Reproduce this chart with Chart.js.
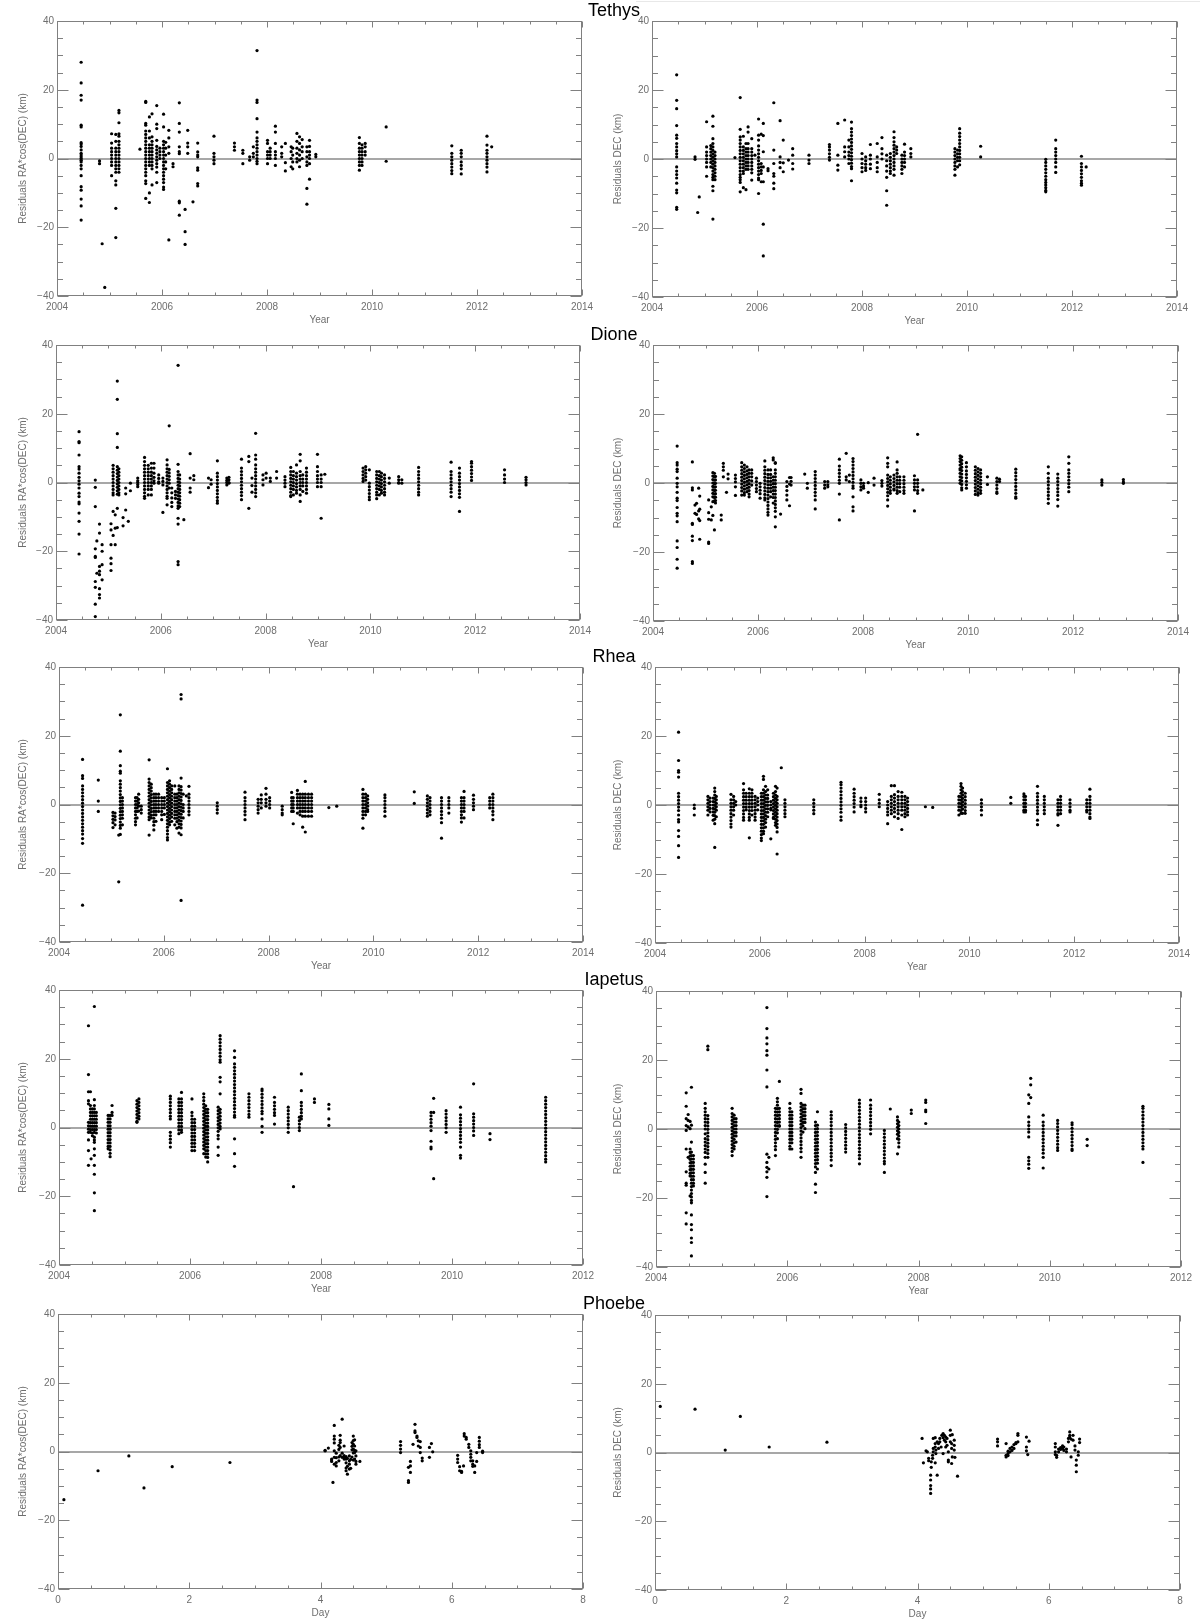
<!DOCTYPE html>
<html><head><meta charset="utf-8">
<script src="https://cdn.jsdelivr.net/npm/chart.js@4.4.1/dist/chart.umd.min.js"></script>
<style>
html,body{margin:0;padding:0;background:#fff;}
body{width:1200px;height:1624px;position:relative;overflow:hidden;font-family:"Liberation Sans",Arial,sans-serif;}
canvas{position:absolute;}
.title{position:absolute;font-size:18px;line-height:18px;color:#000;transform:translateX(-50%);white-space:nowrap;}
</style></head><body>
<div style="position:absolute;left:636px;top:1px;width:564px;height:1px;background:#e8e8e8"></div>
<script>
// ---------- DATA (each column: [x, y1, y2, ...]) ----------
const moonNames = ['Tethys','Dione','Rhea','Iapetus','Phoebe'];
const yTitleRA = 'Residuals RA*cos(DEC) (km)';
const yTitleDEC = 'Residuals DEC (km)';
const yTicks = [-40,-20,0,20,40];
const yearTicks = [2004,2006,2008,2010,2012,2014];
const yearTicksIap = [2004,2006,2008,2010,2012];
const dayTicks = [0,2,4,6,8];

const tethysRA = [
[2004.46,28,22,18.4,17,9.7,9.2,4.6,4.2,3.5,2.5,1.5,1,0.5,0,-0.5,-1,-2,-3,-5,-8.2,-9.2,-11.8,-13.8,-17.9],
[2004.81,-0.7,-1.5],[2004.86,-24.8],[2004.91,-37.5],
[2005.04,7.2,4.5,3,2,1,0,-1,-2,-5],
[2005.12,7,5,3,2,1,0,-1,-2,-3,-4,-6.5,-7.7,-14.5,-23],
[2005.18,14,13.3,10.4,7.2,6.5,5,4,3,2,1,0,-1,-2,-3,-4],
[2005.58,2.7],
[2005.69,16.6,16.3,10.2,9.7,8,7,6,5,4,3,2,1,0,-1,-2,-3,-4,-5,-6.5,-7.3,-11.6],
[2005.76,12.1,8,6,4,3,2,1,0,-1,-2,-10,-12.8],
[2005.81,13,6.3,5,4,3,2,1,0,-1,-2,-3,-7.7],
[2005.9,15.4,10,8.7,5.3,3.5,2.5,1.5,0.5,-0.5,-1.5,-2.5,-4,-7],
[2005.96,3,2,1,0],
[2006.03,12.9,9.2,5,4,3,2,1,0,-1,-2,-3,-4,-5,-6,-7,-8.3,-9],
[2006.07,4.7,3,1,-1,-3],
[2006.13,8.2,6,3.4,1.5,-23.7],
[2006.21,-1.5,-2.4],
[2006.33,16.2,10.2,7.7,3.4,2,1.4,-12.4,-12.9,-16.5],
[2006.44,-14.8,-21.3,-25],
[2006.49,8.2,4.5,3.4,1.5],
[2006.59,-12.6],
[2006.68,4.5,1.9,1,0.5,-2.7,-3.4,-7.3,-8],
[2006.99,6.5,1.5,0.5,-0.5,-1.5],
[2007.38,4.5,3.4,2.4],[2007.54,2.4,1.5,-1.5],[2007.67,0.5,-0.5],[2007.74,3.4,1.5,0.5],
[2007.81,31.4,17,16.3,11.6,7.7,6,5,4,3,2,1,0,-0.8,-1.5],
[2008.01,5.3,4.4,2,1,0,-1.5],[2008.06,3,2,1,0],
[2008.16,9.4,7.7,4.4,2,1,0,-2],
[2008.28,3.4,1.5,0.5],[2008.35,4.4,-1.2,-3.6],
[2008.46,3.4,2,0,-2.4],[2008.49,3,1,-1,-3],
[2008.57,7.3,5,3,1.5,0,-1],
[2008.62,6.3,4.4,2.5,1,-0.5,-2.4],
[2008.67,5.5,3.4,2,0],
[2008.76,3.4,2,0.5,-1,-2,-8.7,-13.3],
[2008.81,5.3,3.5,2,1,0,-1.5,-6],
[2008.93,1.2,0.5],
[2009.76,6.1,4.4,3,2,1,0,-1,-2,-3.4],
[2009.81,4,3,2,1,0,-1,-2],
[2009.87,4.4,3.4,2,1],
[2010.27,9.2,-0.8],
[2011.52,3.7,1.5,0.5,-0.5,-1.5,-2.5,-3.5,-4.4],
[2011.7,2.4,1.5,0.5,-1,-2,-3,-4.5],
[2012.19,6.5,3.9,2.4,1.5,0.5,-0.5,-1.5,-2.5,-3.9],
[2012.28,3.4]
];

const tethysDEC = [
[2004.47,24.4,17,14.6,9.7,6.9,6,4.5,3.5,2.4,1.5,0.6,-2.3,-3.5,-4.5,-5.5,-7,-9,-9.8,-14,-14.6],
[2004.82,0.6,-0.1],[2004.87,-15.5],[2004.9,-11],
[2005.04,10.8,3.5,2,1,0,-1,-2.3,-5],
[2005.12,3.9,3,2,1,0,-1,-2.3],
[2005.16,12.4,9.5,5.9,4.5,3.5,2.5,1.5,0.5,-0.5,-1.5,-2.5,-3.5,-4.5,-5.3,-6,-7.9,-9.2,-17.4],
[2005.2,2,1,0,-1,-2,-3,-4,-5,-6],
[2005.58,0.4],
[2005.68,17.8,8.6,6.4,5.5,4.5,3.5,2.5,1.5,0.5,-0.5,-1.5,-2.5,-3.5,-4.5,-5.3,-6,-6.8,-9.5],
[2005.74,6.6,3.5,2.5,1.5,0.5,-0.5,-1.5,-2.5,-3.5,-4.2,-8.3],
[2005.79,4.5,3,2,1,0,-1,-2,-3,-8.9],
[2005.83,9.3,7.8,4.5,3,2,1,0,-1,-2,-3],
[2005.9,5.9,3,2,1,0,-1,-2,-3,-4,-6.1],
[2005.96,1.1],
[2006.03,11.6,6.9,5.5,3.8,2.6,1.5,0.5,-0.5,-1.5,-2.5,-3.5,-4.5,-5.5,-6,-10],
[2006.08,7.2,-1.3,-2.3,-3.3,-4.2,-6.6],
[2006.12,10.3,6.8,2.1,-2.3,-6.6,-18.9,-28.1],
[2006.21,-2.8,-3.4],
[2006.32,16.3,2.6,-1.3,-4.2,-5,-7,-8.6],
[2006.44,11.1,0.6,-1,-2.5],
[2006.5,5.5,-1.1,-3.7],
[2006.6,-0.3],
[2006.68,3,1.1,-1.3,-2.9],
[2006.99,1.1,-0.3,-1.3],
[2007.38,4.2,3.5,2.6,1.5,0.5,-0.3],
[2007.54,10.3,1.1,-1.8,-3.2],
[2007.67,11.3,3.5,2.1,0.6],
[2007.75,5.5,3.5,2,1,0,-1.3],
[2007.8,10.7,8.8,7.8,6.8,5.8,4.8,3.8,2.8,1.8,0.8,-0.2,-1.2,-2.2,-2.8,-6.3],
[2008.0,1.6,0,-1.3,-2.5,-3.7],
[2008.07,0.6,-0.5,-1.5,-2.5,-3.3],
[2008.16,4.2,1.1,0,-1.5,-2.8],
[2008.29,4.5,0.6,-1,-2.5,-3.7],
[2008.38,6.2,3,1.5,0],
[2008.47,1.1,-0.5,-2,-3.5,-5.3,-9.2,-13.4],
[2008.54,1.6,0.5,-0.5,-1.5,-2.5,-3.5,-4.2],
[2008.61,7.9,6.2,5,4,3,2,1,0,-1,-2,-3,-4.7],
[2008.66,3.5,2.6,1.6],
[2008.76,1.1,0,-1,-2,-3,-4.2],
[2008.81,4.3,2,1,0,-1,-2.3],
[2008.93,3,1.6,0.6],
[2009.77,3,2,1,0,-1,-2,-3,-4.7],
[2009.82,2.6,1.5,0.5,-0.5,-2.3],
[2009.86,8.8,7.5,6.5,5.5,4.5,3.5,2.5,1.5,0.5,-0.5,-1.7],
[2010.26,3.7,0.6],
[2011.5,-0.1,-1,-2,-3,-4,-5,-6,-6.8,-7.5,-8.3,-9.1,-9.5],
[2011.69,5.5,3,2,1,0,-1,-2.3,-3.9],
[2012.18,0.8,-1.3,-2.3,-3.3,-4.3,-5.3,-6.3,-7,-7.6],
[2012.27,-2.3]
];

const dioneRA = [
[2004.44,14.8,11.9,11.6,8,4.6,3.9,2.7,1.5,0.5,-0.5,-1.6,-3.1,-4.1,-5.7,-6.2,-8.9,-11.3,-15,-20.8],
[2004.75,0.7,-1.4,-7,-19.3,-21.5,-21.8,-28.8,-30.5,-35.4,-39],
[2004.78,-17,-26.4],
[2004.83,-12.1,-14.7,-24.4,-25.8,-26.8,-30.9,-32.6,-33.6],
[2004.88,-18.1,-20,-23.9,-28.3],
[2005.05,-12,-13.8,-18.1,-22,-23.6,-25.6],
[2005.09,5,4,3,2,1,0,-1,-2,-3,-3.6,-8.4,-15.4],
[2005.13,-9.4,-13.3,-18.1],
[2005.17,29.5,24.2,14.2,10.2,4.6,3.6,2.6,1.6,0.6,-0.4,-1.4,-2.4,-3.4,-7.5,-13.1],
[2005.2,4,3,2,1,0,-1,-2,-3,-3.6],
[2005.28,-10.2,-12.6],[2005.33,-1.6,-3.3,-8],[2005.38,-11.3],[2005.42,-0.2,-2.4],
[2005.56,1.3,0.5,0,-0.6,-1.2],
[2005.69,7.3,6.1,5,4,3,2,1,0,-1,-2,-3,-4,-4.6],
[2005.76,5,4,3,2,1,0,-1,-2,-3.6],
[2005.82,5.6,4.2,3,2,1,0,-1,-2,-3.6],
[2005.87,5.6,4.2,2.7,1.5,0.5,-0.2],
[2005.96,2.2,1.2,0.2,-0.2],
[2006.04,1.3,0.3,-0.7,-8.7],
[2006.12,6.6,5.1,4,3,2,1,0,-1,-2,-3,-4,-4.6,-6.5],
[2006.16,16.5,3.8,2.8,1.8,0.8,-0.2,-1.6],
[2006.21,-1.6,-3,-4.5,-5.8,-7],
[2006.28,-2.6,-3.6,-4.6],
[2006.33,34.1,5.3,3.2,2.2,1.2,0.2,-0.8,-1.8,-2.8,-3.8,-4.8,-5.8,-6.8,-7.5,-10.4,-12.1,-23,-23.9],
[2006.36,2.2,1,0,-1,-2,-3,-4,-5,-6,-7],
[2006.44,-10.8],
[2006.56,8.4,1.3,-1.6,-2.8],
[2006.63,2,0.8],[2006.91,1.3,-1.5],[2006.96,0.8,-0.5],
[2007.08,6.3,2.7,1.7,0.7,-0.3,-1.3,-2.3,-3.3,-4.3,-5.3,-6],
[2007.26,1.3,0.6,0,-0.7],[2007.3,1.5,0.8,0,-0.2],
[2007.54,6.8,4.2,3.2,2.2,1.2,0.2,-0.8,-1.8,-2.8,-3.8,-5],
[2007.68,7.6,6.1,-7.5],
[2007.74,1.3,-0.9,-2.8],
[2007.81,14.3,8,6.8,5.1,4,3,2,1,0,-1,-2,-3,-4.1],
[2007.95,2.2,0.8,-0.7],[2008.01,2.7,1.3],[2008.09,1.3,0.3],[2008.21,3.2,1.3],
[2008.37,1.7,0.7,-0.2,-1.2],
[2008.48,4.4,3.2,2.2,1.2,0.2,-0.8,-1.8,-2.8,-3.8,-4.1],
[2008.53,3.2,2,1,0,-1,-2,-3.6],
[2008.59,5.1,2.7,1.7,0.7,-0.3,-1.3,-2.3,-3.1],
[2008.66,8.2,6.3,3.2,2,1,0,-1,-2,-3.6,-5.5],
[2008.71,2.2,1,0,-1,-2.6],
[2008.78,4.2,3,2,1,0,-1,-2,-3.1],
[2008.99,8.2,4.6,3.2,2,1,0,-1.2],
[2009.06,2.2,1,0,-1.2,-10.4],
[2009.13,2.4],
[2009.86,4.2,3.2,2.2,1.2,0.3],
[2009.91,4.6,3.7,2.7,1.7,0.7],
[2009.98,3.7,-0.2,-1.2,-2.2,-3.2,-4.2,-5],
[2010.12,3.2,2.2,1.2,0.2,-0.8,-1.8,-2.8,-3.6,-4.7],
[2010.17,3.2,2,1,0,-1,-2,-3.6],
[2010.21,2.7,1.7,0.7,-0.3,-1.3,-2.3,-3.1],
[2010.27,2.2,1.2,0.2,-0.8,-1.8,-2.8,-3.6],
[2010.36,1.3,-0.2],
[2010.54,1.7,0.8,0,-0.2],[2010.6,0.8,-0.2],
[2010.92,4.4,3.2,2.2,1.2,0.2,-0.8,-1.8,-2.8,-3.6],
[2011.54,5.9,3.2,2.2,1.2,0.2,-0.8,-1.8,-2.8,-4.1],
[2011.7,4.2,2.7,1.7,0.7,-0.3,-1.3,-2.3,-3.3,-4.3,-8.4],
[2011.93,6.1,5.6,4.6,3.6,2.6,1.6,0.6],
[2012.56,3.7,2.2,1,0],
[2012.97,1.5,0.8,0,-0.7]
];

const dioneDEC = [
[2004.46,10.7,5.9,5.2,4,3.3,1.4,-0.1,-1.1,-2.7,-4.4,-5.1,-7.1,-8.8,-9.5,-11.2,-16.8,-18.7,-22.1,-24.7],
[2004.75,6.1,-1.4,-2,-11.7,-12,-15.4,-16.7,-22.8,-23.3],
[2004.8,-6.4,-8.8],[2004.83,-5.9,-9.1],[2004.87,-1.5,-8.1,-10.4],
[2004.89,-3.8,-7.6,-10.9,-16.3],
[2005.06,-4.9,-8.6,-10.5,-17.1,-17.5],
[2005.11,-6.9,-10.7],
[2005.14,3,2,1,0,-1,-2,-3,-4,-5.4,-9.4],
[2005.17,2.8,1.8,0.8,-0.2,-1.2,-2.2,-3.2,-4.2,-5.2,-13.6],
[2005.19,1.9,0.9,-0.1,-1.1,-2.1,-3.1,-4.1,-5.1,-5.8],
[2005.3,-9.3,-10.7],
[2005.34,5.7,4.7,3.7,1.8],
[2005.4,-2.7],[2005.43,2.6,1.2],
[2005.57,2.3,1.3,0.3,-1.1,-3.6],
[2005.69,5.9,4.7,3.7,2.7,1.7,0.7,-0.3,-1.3,-2.3,-3.5],
[2005.74,5.2,4.2,3.2,2.2,1.2,0.2,-0.8,-1.8,-2.8,-3.5],
[2005.79,4.7,3.5,2.5,1.5,0.5,-0.5,-1.5,-2.5],
[2005.83,3.8,2.8,1.8,0.8,-0.2,-1.2,-2.2,-3.2,-4],
[2005.88,3.8,2.8,1.8,0.6,-0.6],
[2005.97,1.4,0.4,-0.6,-1.6,-2.5],
[2006.04,-0.1,-1.1,-2.1,-3.1,-4.4],
[2006.13,6.4,4.7,3.7,2.7,1.7,0.7,-0.3,-1.3,-2.3,-3.3,-4.3,-4.9],
[2006.19,3.8,2.5,1.5,0.5,-0.5,-1.5,-2.5,-3.5,-4.5,-5.5,-6.5,-7.5,-8.5,-9.3],
[2006.24,3.8,2.5,1.5,0.5,-0.5,-1.5,-2.5,-4],
[2006.29,7.3,6.7,1.8,0.8,-0.2,-1.2,-2.2,-3.2,-4.2,-5.8],
[2006.33,5.9,5.7,3.8,2.8,1.8,0.8,-0.2,-1.2,-2.2,-3.2,-4.2,-5.2,-6.2,-7.2,-8.2,-9.8,-12.7],
[2006.43,-9],
[2006.55,0.4,-1,-2.2,-3.5,-4.9],
[2006.6,1.6,-0.3,-6.6],
[2006.63,1.6,0.5,-0.6],
[2006.89,2.6],[2006.94,-0.1,-1.5],
[2007.09,3.3,2.3,1.3,0.3,-0.7,-1.7,-2.7,-3.7,-4.9,-7.5],
[2007.27,0.4,-0.6,-1.5],[2007.33,0.4,-0.5,-1.1],
[2007.55,6.9,4.9,3.8,2.8,1.8,0.8,-0.1,-3.2,-10.7],
[2007.68,8.6,1.8,0.9],[2007.74,2.3,0.4],
[2007.81,7.1,6.2,5.2,4.2,3.2,2.2,1.2,0.2,-0.8,-1.5,-4,-6.9,-8.1],
[2007.96,0.9,-0.1,-1.1,-2],[2008.01,-0.1,-0.9,-1.5],[2008.1,0.1,-2.7],[2008.21,1.4,-0.6],
[2008.36,0.7,-0.1,-0.9],
[2008.47,7.3,5.7,4.7,2.3,1.3,0.3,-0.7,-1.7,-2.7,-3.7,-4.9,-6.7],
[2008.52,1.8,0.8,-0.2,-1.2,-2.2,-3],
[2008.59,2.3,1.3,0.3,-0.7,-1.7,-2],
[2008.65,6.1,3.8,2.8,1.8,0.8,-0.2,-1.2,-2.2,-3],
[2008.7,1.8,0.8,-0.2,-1.2,-2.5],
[2008.78,1.8,0.8,-0.2,-1.2,-2.2,-3],
[2008.98,2.1,0.9,-0.1,-1.1,-2,-8.1],
[2009.04,14.1,0.9,-0.1,-1.1,-2.2,-3],
[2009.14,-2],
[2009.85,7.9,7.1,6.2,5.2,4.2,3.8,2.8,1.8,0.8,-0.1],
[2009.88,7.6,6.6,5.6,4.6,3.6,2.6,1.6,0.6,-0.4,-1.4,-2],
[2009.97,5.9,4.7,3.5,2.5,1.5,0.5,-0.5,-1.5],
[2010.14,4.7,3.7,2.7,1.7,0.7,-0.3,-1.3,-2.3,-3.3],
[2010.19,4.2,3.2,2.2,1.2,0.2,-0.8,-1.8,-2.8,-3.5],
[2010.24,3.8,2.8,1.8,0.8,-0.2,-1.2,-2.2,-3],
[2010.37,1.8,-0.4],
[2010.55,1.4,0.4,-0.6,-1.6,-2.6,-3],
[2010.6,1.1,0.4],
[2010.91,4,3,2,1,0,-1,-2,-3,-4,-4.4],
[2011.53,4.7,2.8,1.4,0.4,-0.6,-1.6,-2.6,-3.6,-4.6,-5.9],
[2011.71,2.6,1.4,0.4,-0.6,-1.6,-2.6,-3.6,-4.8,-6.7],
[2011.92,7.6,5.7,3.8,2.8,1.8,0.8,-0.2,-1.2,-2.5],
[2012.55,0.9,0.2,-0.6],
[2012.96,1,0.3,-0.1]
];

const rheaRA = [
[2004.45,13.1,8.4,7.6,5.4,4.4,3.4,2.4,1.4,0.4,-0.6,-1.6,-2.6,-3.6,-4.6,-5.6,-6.6,-7.6,-8.6,-9.9,-11.3,-29.3],
[2004.75,7.1,1,-2],
[2005.03,-2.3,-3.3,-4.3,-5.3,-6.7],
[2005.07,-2.5,-3.5,-4.5,-5.9],
[2005.14,-8.9,-22.5],
[2005.17,26.1,15.5,11.3,9.7,9.1,6.9,5.9,4.9,3.9,2.9,1.9,0.9,-0.1,-1.1,-2.1,-3.1,-4.1,-5.1,-6.1,-6.9,-8.7],
[2005.21,2,1,0,-1,-2,-3,-4,-5.9],
[2005.46,2,1,0,-1,-2,-3,-4,-5,-5.9],
[2005.49,2,1,0,-1,-2,-3.9],
[2005.52,3,1.5,0.5,-0.5,-1.9],
[2005.57,-0.5,-1.5,-2.5],
[2005.72,13,7.4,6.4,5.4,4.4,3.4,2.4,1.4,0.4,-0.6,-1.6,-2.6,-3.6,-4.4,-8.9],
[2005.76,5.9,4.9,3.9,2.9,1.9,0.9,-0.1,-1.1,-2.1,-3.1,-3.9],
[2005.81,3,2,1,0,-1,-2,-3,-4,-5,-6,-7.4],
[2005.85,3,2,1,0,-1,-2,-3,-4.9],
[2005.9,3,2,1,0,-1,-2],
[2005.96,2,1,0,-1,-2,-3,-4.4],
[2006.01,2,1,0,-1,-2.9],
[2006.07,10.4,6.4,5.4,4.4,3.4,2.4,1.4,0.4,-0.6,-1.6,-2.6,-3.6,-4.6,-5.6,-6.6,-7.6,-8.6,-9.6,-10.3],
[2006.11,6.9,5.9,4.9,3.9,2.9,1.9,0.9,-0.1,-1.1,-2.1,-3.1,-4.1,-5.1,-5.9],
[2006.15,5.4,4.4,3.4,2.4,1.4,0.4,-0.6,-1.6,-2.6,-3.6,-4.9],
[2006.21,5.4,3,2,1,0,-1,-2,-3,-4,-5.9],
[2006.25,3,2,1,0,-1,-2,-3,-4,-5,-6.9],
[2006.29,5.4,4.4,3.4,2.4,1.4,0.4,-0.6,-1.6,-2.6,-3.6,-4.6,-5.6,-6.6,-8.3],
[2006.33,32,30.7,7.7,5.2,4.2,3.2,2.2,1.2,0.2,-0.8,-1.8,-2.8,-3.8,-4.8,-5.8,-6.8,-8.8,-27.9],
[2006.37,3,0,-1,-2,-3.9],
[2006.43,2.5],
[2006.48,5.3,3,2,1,0,-1,-2,-3],
[2007.02,0.5,-0.5,-1.5,-2.5],
[2007.55,3.6,2,1,0,-1,-2,-3,-4.4],
[2007.8,1.5,0.5,-0.5,-1.5,-2.5],
[2007.86,2.8,1.5,0.5,-1],
[2007.95,4.7,3,1.5,0.5,-0.5],
[2008.02,2,1,0,-1],
[2008.26,-0.5,-1.5,-2.5,-3],
[2008.44,3.5,2,1,0,-1,-2],
[2008.47,2,1,0,-1,-2,-5.6],
[2008.55,4.1,3,2,1,0,-1,-2.5],
[2008.6,3,2,1,0,-1,-2,-3],
[2008.65,3,2,1,0,-1,-2,-3.4,-6.6],
[2008.7,6.7,3,2,1,0,-1,-2,-3.4,-8],
[2008.76,3,2,1,0,-1,-2,-3.4],
[2008.82,3,2,1,0,-1,-2,-3.4],
[2009.15,-0.9],[2009.3,-0.5],
[2009.8,4.4,3,2,1,0,-1,-2,-3,-4,-6.9],
[2009.85,3,2,1,0,-1,-2,-3],
[2009.89,2.5,1.5,0.5,-0.5,-1.5,-2],
[2010.22,2.8,2,1,0,-1,-2,-3.4],
[2010.78,3.7,0.3],
[2011.03,2.5,1.5,0.5,-0.5,-1.5,-2.5,-3.4],
[2011.08,2,1,0,-1,-2,-3],
[2011.3,2,1,0,-1,-2,-3,-4,-5.3,-9.8],
[2011.44,2,1,0,-1,-2.5],
[2011.68,2,1,0,-1,-2,-3,-3.9,-5.1],
[2011.73,3.8,2,1,0,-1,-2,-3.9],
[2011.91,2.7,1.5,0.5,-0.5,-1.5],
[2012.22,2,1,0,-1],
[2012.28,3,2,1,0,-1,-2,-3,-4.4]
];

const rheaDEC = [
[2004.45,21.1,12.9,10,9.5,8.1,3.4,2.4,1.4,0.4,-0.6,-1.6,-2.9,-4.2,-4.9,-7.4,-9.1,-11.8,-15.2],
[2004.75,0,-1,-2.9],
[2005.01,2.5,1.5,0.5,-0.5,-1.5,-2.9],
[2005.05,2,1,0,-1,-2],
[2005.11,2,1,0,-1,-2,-3,-4.4],
[2005.14,4.9,3.9,2.9,1.9,0.9,-0.1,-1.1,-2.1,-3.1,-4.1,-5.4,-12.3],
[2005.17,2.5,1.5,0.5,-0.5,-1.5,-3.4],
[2005.45,3.1,1.5,0.5,-0.5,-1.5,-2.5,-3.5,-4.5,-5.5,-6.4],
[2005.5,2.5,1.5,0.5,-0.5,-1.5,-2.9],
[2005.54,1,0],
[2005.69,6.2,4.4,3.4,2.4,1.4,0.4,-0.6,-1.6,-2.6,-3.6,-4.4],
[2005.74,3.4,2.4,1.4,0.4,-0.6,-1.4],
[2005.8,4.7,3.4,2.4,1.4,0.4,-0.6,-1.6,-2.6,-3.6,-4.4,-9.5],
[2005.85,4.4,3.4,2.4,1.4,0.4,-0.6,-1.6,-2.9],
[2005.91,2.5,1.5,0.5,-0.5,-1.5,-2.5,-3.5,-4.4],
[2005.96,2,1,0,-1.4],
[2006.03,3.4,2.4,1.4,0.4,-0.6,-1.6,-2.6,-3.6,-4.6,-5.6,-6.6,-7.6,-8.6,-9.6,-10.3],
[2006.07,8.3,7.4,4.4,3.4,2.4,1.4,0.4,-0.6,-1.6,-2.6,-3.6,-4.6,-5.6,-6.6,-7.6,-8.3],
[2006.11,5.4,3.9,2.9,1.9,0.9,-0.1,-1.1,-2.1,-3.1,-4.1,-5.1,-6.4],
[2006.15,4.4,2.9,1.9,0.9,-0.1,-1.1,-2.1,-3.4],
[2006.21,1,0,-1,-1.4,-9.8],
[2006.26,3.4,2.4,1.4,0.4,-0.6,-1.6,-2.6,-3.6,-3.9],
[2006.3,5.4,3.9,2.9,1.9,0.9,-0.1,-1.1,-2.1,-3.1,-4.1,-5.1,-5.9],
[2006.33,4.9,2.5,1.5,0.5,-0.5,-1.5,-2.5,-3.5,-4.5,-5.5,-6.5,-7.8,-14.2],
[2006.41,10.8],
[2006.48,1.5,0.5,-0.5,-1.5,-2.5,-3.4],
[2007.03,1.5,0.5,-0.5,-1.5,-2.5],
[2007.55,6.6,5.9,4.9,3.9,2.9,1.9,0.9,-0.1,-1.1,-2.1,-3.4,-4.4],
[2007.8,4.6,3.4,2.4,1.4,0.4,-0.6,-2],
[2007.93,2,1,0,-0.5],
[2008.02,2,1,0,-1,-2],
[2008.28,3.1,1.5,0.5,-0.5],
[2008.44,1,0,-1,-2,-2.9,-5.4],
[2008.51,5.6,2.5,1.5,0.5,-0.5,-1.5,-2.5],
[2008.57,5.6,3,2,1,0,-1,-2,-3.4],
[2008.64,3.9,2.5,1.5,0.5,-0.5,-1.5,-2.5,-3.9],
[2008.71,3.7,2.5,1.5,0.5,-0.5,-1.5,-2.9,-7.1],
[2008.77,2.5,1.5,0.5,-0.5,-1.5,-2.5,-3.4],
[2008.82,2,1,0,-1,-2,-2.9],
[2009.16,-0.5],[2009.3,-0.7],
[2009.8,2.5,1.5,0.5,-0.5,-1.5,-2.9],
[2009.84,6.2,5.4,4.4,3.4,2.4,1.4,0.4,-0.6,-1.6,-2.4],
[2009.87,4.9,3.9,2.9,1.9,0.9,-0.1,-1.1,-2.4],
[2009.92,3.4,2.4,1.4,0.4,-0.6,-1.6,-2.4],
[2010.23,1.5,0.5,-0.5,-1.5,-2.9],
[2010.79,2.2,0.5],
[2011.04,3.2,2.5,1.5,0.5,-0.5,-1.5,-2],
[2011.07,2.5,1.5,0.5,-0.5,-1.5,-2],
[2011.3,5.4,3.4,2.4,1.4,0.4,-0.6,-1.6,-2.5,-4.4,-5.7],
[2011.43,2.5,1.5,0.5,-0.5,-1.5,-2.5],
[2011.69,1.5,0.5,-0.5,-1.5,-2.5,-2.9,-5.9],
[2011.74,2.5,1.5,0.5,-0.5,-1.5,-2.5],
[2011.92,1.5,0.5,-0.5,-1.5,-2],
[2012.24,1.5,0.5,-0.5,-1.5,-2],
[2012.3,4.6,2.5,1.5,0.5,-0.5,-1.5,-2.5,-3.5,-3.9]
];

const iapetusRA = [
[2004.45,29.6,15.4,10.4,7.8,6.9,1.5,0.5,-0.5,-1.4,-3.6,-6.7,-11],
[2004.48,10.4,6.4,5.4,4.4,3.4,2.4,1.4,0.4,-0.6,-1.4],
[2004.49,-9.1],
[2004.51,5.4,4.4,3.4,2.4,1.4,0.4,-0.6,-1.6,-2.4],
[2004.54,35.2,8.1,6.4,5.4,4.4,3.4,2.4,1.4,0.4,-0.6,-1.4,-2.8,-3.6,-4.3,-6.2,-8.1,-11,-13.6,-19,-24.2],
[2004.57,4.4,3.4,2.4,1.4,0.4,-0.6,-1.6],
[2004.75,3.5,2.5,1.5,0.5,-0.5,-1.5,-2.5,-3.5,-4.5,-5.5,-6.2],
[2004.78,3.5,2.5,1.5,0.5,-0.5,-1.5,-2.5,-3.5,-4.5,-5.5,-6.5,-7.5,-8.5],
[2004.81,6.4,4.4,3.5],
[2005.19,7.8,6.8,5.8,4.8,3.8,2.8,1.8,1.5],
[2005.22,8.3,7.3,6.3,5.3,4.3,3.3,2.5],
[2005.7,9.1,8.3,7.3,6.3,5.3,4.3,3.3,2.5,-1.4,-2.4,-3.4,-4.4,-5.7],
[2005.83,8.3,7.3,6.3,5.3,4.3,3.3,2.3,1.3,0.3,-0.7,-1.8],
[2005.87,10.2,8.3,7.3,6.3,5.3,4.3,3.3,2.3,1.3,0.3,-0.7,-1.4],
[2006.03,8.3,4.4,3.4,2.4,1.4,0.4,-0.6,-1.6,-2.6,-3.6,-4.6,-5.6,-6.7],
[2006.07,2.4,1.4,0.4,-0.6,-1.6,-2.6,-3.6,-4.6,-5.6,-6.7],
[2006.21,9.8,8.8,7.8,6.8,5.8,4.8,3.8,2.8,1.8,0.8,-0.2,-1.2,-2.2,-3.2,-4.2,-5.2,-6.2,-7.6],
[2006.24,6.3,5.3,4.3,3.3,2.3,1.3,0.3,-0.7,-1.7,-2.7,-3.7,-4.7,-5.7,-6.7,-7.7,-8.6],
[2006.27,5.3,4.3,3.3,2.3,1.3,0.3,-0.7,-1.7,-2.7,-3.7,-4.7,-5.7,-6.7,-7.7,-8.7,-10],
[2006.43,5.9,4.9,3.9,2.9,1.9,0.9,-0.1,-1.1,-2.3,-3.3,-5.7,-8.1],
[2006.46,26.7,25.7,24.7,23.7,22.7,21.7,20.7,19.7,19,14.6,13.3,9.8,5.3,4.3,3.3,2.3,1.3,0.3,-0.4],
[2006.68,22.3,20.4,18.5,17.5,16.5,15.5,14.5,13.5,12.5,11.5,10.5,9.5,8.5,7.5,6.5,5.5,4.5,3.5,3,-3.3,-7.6,-11.3],
[2006.9,9.8,8.8,7.8,6.8,5.8,4.8,3.8,3],
[2007.1,11.2,10.7,9.7,8.7,7.7,6.7,5.7,4.7,4,2.5,0.3,-1.4],
[2007.29,8.8,7.3,6.3,5.3,4.3,3.5,1],
[2007.5,5.9,4.9,3.9,2.9,1.9,0.9,-0.1,-1.4],
[2007.58,-17.2],
[2007.67,3,2,1,0,-0.9],
[2007.7,15.6,10.7,7.3,6.3,5.3,4.3,3.3,2.5],
[2007.9,8.3,7.3],
[2008.12,6.7,5.4,2.5,0.6],
[2009.68,4.4,3.4,2.4,1.4,0.4,-0.9,-4,-5.7,-6.2],
[2009.72,8.5,4.4,-14.9],
[2009.91,4.9,3.9,2.9,1.9,0.9,-0.1,-1.4],
[2010.13,5.9,3.7,2.7,1.7,0.7,-0.3,-1.3,-2.3,-3.3,-4.3,-5.7,-8.1,-8.9],
[2010.33,12.7,4,3,2,1,0,-1,-2.3],
[2010.58,-1.8,-3.5],
[2011.43,8.8,7.8,6.8,5.8,4.8,3.8,2.8,1.8,0.8,-0.2,-1.2,-2.2,-3.2,-4.2,-5.2,-6.2,-7.2,-8.2,-9.2,-10]
];

const iapetusDEC = [
[2004.46,10.5,6.6,3,1,-0.4,-5.8,-12.4,-15.7,-16.3,-24.3,-27.5],
[2004.49,4.2,2.5,0.6,-8.2],
[2004.52,2.2,0.1,-5.8,-6.8,-7.8,-8.8,-9.8,-10.8,-11.8,-12.8,-13.6,-19.4],
[2004.54,12.1,1.1,-3.8,-6.7,-7.7,-8.7,-9.7,-10.7,-11.7,-12.7,-13.7,-14.7,-15.7,-16.7,-17.7,-18.7,-19.7,-20.7,-21.4,-24.9,-27.7,-29.2,-31.6,-32.9,-36.8],
[2004.57,-7.7,-8.7,-9.7,-10.7,-11.7,-12.7,-13.7,-14.7,-15.7,-16.5],
[2004.75,7.4,6,5,4,3,2,1,0,-1.4,-2.8,-3.8,-4.8,-5.8,-6.8,-8.2,-10.2,-12.6,-15.7],
[2004.79,24,23,3.9,2.9,1.9,0.9,-0.1,-1.1,-2.1,-3.1,-4.1,-5.1,-6.1,-7.1,-8.2],
[2005.16,6,4.5,3.5,2.5,1.5,0.5,-0.5,-1.5,-2.5,-3.5,-4.5,-5.5,-6.5,-7.7],
[2005.19,4,3,2,1,0,-1,-2,-3,-4,-5,-5.8],
[2005.22,3,2,1,0,-1,-2,-3.8],
[2005.69,35.2,29.1,26.4,24.7,22.7,21.4,17.1,12.2,-7.3,-9.7,-11.1,-12.4,-14,-19.6],
[2005.72,-8.2,-11.6],
[2005.82,6,5,4,3,2,1,0,-1,-2,-3,-4,-5,-6,-7.7],
[2005.85,8.9,7.9,6.9,5.9,4.9,3.9,2.9,1.9,0.9,-0.1,-1.1,-2.8],
[2005.88,13.8,6,5,4,3,2,1,0.8],
[2006.04,7.4,6,5,4,3,2,1,0,-1,-2,-3,-4,-5,-5.8],
[2006.07,5,4,3,2,1,0,-1,-2,-3,-4,-5.8],
[2006.21,11.5,10.3,7.4,6.4,5.4,4.4,3.4,2.4,1.4,0.4,-0.6,-1.6,-2.6,-3.6,-4.6,-5.6,-6.6,-8.2],
[2006.24,6.9,5.9,4.9,3.9,2.9,1.9,0.9,-0.9],
[2006.27,6.9,5.9,4.9,3.9,2.9,1.9,0.1],
[2006.43,2,1,0,-1,-2,-3,-4,-5,-6,-7,-8,-9,-10,-11,-12.6,-16,-18.4],
[2006.46,5,1.1,0.1,-0.9,-1.9,-2.9,-3.9,-4.9,-5.9,-6.9,-7.9,-8.9,-9.9,-11.6],
[2006.67,5,4,3,2,1,0,-1,-2,-3,-4,-5,-6,-7,-8,-9,-10.6],
[2006.89,1.3,0.3,-0.7,-1.7,-2.7,-3.7,-4.7,-5.7,-6.7],
[2007.1,8.4,7.4,6.4,5.4,4.4,3.4,2.4,1.4,0.4,-0.6,-1.6,-2.6,-3.6,-4.6,-5.6,-6.6,-7.6,-8.6,-10.1],
[2007.27,8.4,6.9,5.9,4.9,3.9,2.9,1.9,0.9,-0.1,-1.4],
[2007.48,-0.4,-1.4,-2.4,-3.4,-4.4,-5.4,-6.4,-7.4,-8.4,-9.4,-10.1,-12.6],
[2007.57,5.8],
[2007.68,3.5,2.5,1.5,0.5,-0.5,-1.5,-2.8,-7.2],
[2007.7,2,1,0,-1,-2,-3,-4,-5.2],
[2007.89,5.5,4.5],
[2008.11,8.4,7.7,5.5,5,1.6],
[2009.68,9.9,7.4,3.5,2,1,0,-0.9,-2.3,-8.2,-9.2,-10.2,-11.4],
[2009.71,14.7,12.8,9.1],
[2009.9,4,2,1,0,-1,-2,-3,-4,-5,-6,-7,-8.2,-11.3],
[2010.12,2.5,1.6,0.6,-0.4,-1.4,-2.4,-3.4,-4.4,-5.4,-6.2],
[2010.34,1.8,1.2,0.2,-0.8,-1.8,-2.8,-3.8,-4.8,-5.8,-6.2],
[2010.57,-3,-4.8],
[2011.42,6.6,6,5,4,3,2,1,0,-1,-2,-3,-4,-5,-5.8,-9.7]
];

const phoebeRA = [
[0.09,-14],[0.61,-5.6],[1.08,-1.3],[1.31,-10.6],[1.74,-4.4],[2.62,-3.2],
[4.07,0.3,0.2],[4.12,1.0],[4.17,-2.2,-2.9,-2.5],[4.19,-9],
[4.21,7.6,4.5,3.6,2.5,0.2,-1.7,-3.7],
[4.24,-4.2,-3.2,-1.8,-0.5],
[4.28,-2.7,-1.6,0.6,1.8],
[4.3,4.7,3.3,2.6,1.2,-1.2],
[4.33,9.4,-0.5,-1.7],
[4.36,-1.7,-2.2,-1.2,1.6],
[4.39,-5.6,-4.8,-3.3,-2.2,-1.5],
[4.41,-6.6,-4.3,-2.0],
[4.44,-2.7,-3.7,-1.3,-5.1],
[4.46,-4.9,-2.3],
[4.48,2.6,1.5,0.5,-1.6],
[4.5,4.5,3.2,2.1,0.7,-0.4,-2.5],
[4.52,3.4,1.6,0.3,-0.3,-2.2],
[4.54,-3.7,-2.9,-1.3,0.2],
[4.6,-2.9],
[5.22,2.9,1.8,0.7,-0.3],
[5.34,-4.6,-8.5,-9],
[5.37,-2.9,-4.2,-6.1],
[5.41,2.1],
[5.44,7.9,6,5.5],
[5.47,4.5,4.1],
[5.49,3.1,1.6],
[5.52,2.9,1.2,-0.3],
[5.55,-1.9,-2.7],
[5.66,1.2,-1.7],[5.69,2.3],[5.71,-0.1],
[6.09,-1.1,-2.2,-3.2],
[6.12,-4.4,-5.6],
[6.15,-5.8,-6.1],
[6.18,-4.2],
[6.19,5.2,4.5],
[6.22,4.1,3.6],
[6.26,2.1,1.2],
[6.29,0.2,-0.8,-1.7,-2.7],
[6.32,-2.7,-3.7,-4.3],
[6.35,-4.2,-6.1],
[6.38,-2.9,-0.3],
[6.42,4.1,3,2,1.2],
[6.47,-0.3,0.1]
];

const phoebeDEC = [
[0.08,13.4],[0.61,12.6],[1.07,0.7],[1.3,10.5],[1.74,1.6],[2.62,3],
[4.07,4.1],[4.09,-3],[4.13,0.5],[4.15,0.2],[4.17,-1.7,-2.4],
[4.2,-6.6,-8,-9.6,-10.6,-11.9],
[4.21,-4.3,-2.7],[4.23,-0.8,-1.7],
[4.24,4.1,1.2,0.2],
[4.27,4.3,2.6,1.6,-3],
[4.28,0.7,-0.3],
[4.3,-6.6,3.1],
[4.32,2.6,1.2],
[4.34,4.1,3.1],
[4.36,1.6],
[4.37,5],
[4.39,5.5,4.3,-0.3],
[4.41,5,3.6],
[4.43,4.5,3.1,1.6],
[4.45,4.1,2.1],
[4.47,-2.2,-2.7,0.2],
[4.5,6.5,5,3.1],
[4.52,2.6,1.2,-3.2],
[4.53,5.2,-1.3],
[4.56,3.6,2.1,0.7],
[4.57,-1.4],
[4.61,-6.9],
[5.22,3.9,3.1,1.9],
[5.35,2.6,-0.8,-1.3],
[5.38,0.4,-0.3,-0.9],
[5.41,1.2,0.2],
[5.44,1.6,0.6],
[5.47,2.3,1.2],
[5.5,2.9,2.6],
[5.53,5,5.5,3.1],
[5.66,4.5,1.6,0.5],
[5.68,-0.6],
[5.7,3.3],
[6.1,2.6,1.6,0.2,-0.6],
[6.12,-0.8,-1.4],
[6.15,0.2,1],
[6.18,0.9,1.4],
[6.21,1.9,1.2],
[6.23,1.6,0.6],
[6.27,1,0.2],
[6.3,4.1,3.1],
[6.32,6,5,4.5],
[6.34,3.9,-1.3],
[6.37,5,3.6],
[6.4,1.9,0.7],
[6.42,-2.2,-3.7,-5.6],
[6.45,0.2,-0.8],
[6.47,3.9,2.9]
];

// ---------- LAYOUT ----------
const FONT = '"Liberation Sans", Arial, Helvetica, sans-serif';
const LABEL = '#6e6e6e';
const AXIS = '#808080';

const panels = [
  {data: tethysRA,  yt: yTitleRA,  xt:'Year', xmin:2004, xmax:2014, xticks:yearTicks, side:0, rect:[57,21,582,296]},
  {data: tethysDEC, yt: yTitleDEC, xt:'Year', xmin:2004, xmax:2014, xticks:yearTicks, side:1, rect:[652,21,1177,297]},
  {data: dioneRA,   yt: yTitleRA,  xt:'Year', xmin:2004, xmax:2014, xticks:yearTicks, side:0, rect:[56,345,580,620]},
  {data: dioneDEC,  yt: yTitleDEC, xt:'Year', xmin:2004, xmax:2014, xticks:yearTicks, side:1, rect:[653,345,1178,621]},
  {data: rheaRA,    yt: yTitleRA,  xt:'Year', xmin:2004, xmax:2014, xticks:yearTicks, side:0, rect:[59,667,583,942]},
  {data: rheaDEC,   yt: yTitleDEC, xt:'Year', xmin:2004, xmax:2014, xticks:yearTicks, side:1, rect:[655,667,1179,943]},
  {data: iapetusRA, yt: yTitleRA,  xt:'Year', xmin:2004, xmax:2012, xticks:yearTicksIap, side:0, rect:[59,990,583,1265]},
  {data: iapetusDEC,yt: yTitleDEC, xt:'Year', xmin:2004, xmax:2012, xticks:yearTicksIap, side:1, rect:[656,991,1181,1267]},
  {data: phoebeRA,  yt: yTitleRA,  xt:'Day',  xmin:0, xmax:8, xticks:dayTicks, side:0, rect:[58,1314,583,1589]},
  {data: phoebeDEC, yt: yTitleDEC, xt:'Day',  xmin:0, xmax:8, xticks:dayTicks, side:1, rect:[655,1315,1180,1590]}
];
const titleTops = [21,345,667,990,1314];

function toPoints(cols){
  const out=[];
  cols.forEach(c=>{ for(let i=1;i<c.length;i++) out.push({x:c[0], y:c[i]}); });
  return out;
}

const framePlugin = {
  id:'idlFrame',
  beforeDatasetsDraw(chart){
    const {ctx, chartArea:a, scales:{y}} = chart;
    const y0 = Math.round(y.getPixelForValue(0));
    ctx.save();
    ctx.strokeStyle = '#8a8a8a'; ctx.lineWidth = 1.6;
    ctx.beginPath(); ctx.moveTo(a.left, y0); ctx.lineTo(a.right, y0); ctx.stroke();
    ctx.restore();
  },
  afterDraw(chart){
    const {ctx, chartArea:a, scales:{x,y}} = chart;
    const L = Math.round(a.left)+0.5, R = Math.round(a.right)-0.5;
    const T = Math.round(a.top)+0.5, B = Math.round(a.bottom)-0.5;
    ctx.save();
    ctx.strokeStyle = AXIS; ctx.lineWidth = 1;
    ctx.strokeRect(L, T, R-L, B-T);
    ctx.beginPath();
    const xmin = x.min, xmax = x.max;
    const nx = Math.round((xmax-xmin)/0.5);
    for(let i=0;i<=nx;i++){
      const v = xmin + i*0.5;
      const px = Math.round(x.getPixelForValue(v))+0.5;
      const len = (i%4===0) ? 6 : 3;
      ctx.moveTo(px, B); ctx.lineTo(px, B-len);
      ctx.moveTo(px, T); ctx.lineTo(px, T+len);
    }
    for(let v=-40; v<=40; v+=5){
      const py = Math.round(y.getPixelForValue(v))+0.5;
      const len = (v%20===0) ? 11 : 5.5;
      ctx.moveTo(L, py); ctx.lineTo(L+len, py);
      ctx.moveTo(R, py); ctx.lineTo(R-len, py);
    }
    ctx.stroke();
    ctx.restore();
  }
};

panels.forEach(p=>{
  const [l,t,r,b] = p.rect;
  const cLeft = p.side ? 600 : 0;
  const cTop = t - 10;
  const W = 600, H = (b - t) + 10 + 32;
  const cv = document.createElement('canvas');
  cv.width = W; cv.height = H;
  cv.style.left = cLeft+'px'; cv.style.top = cTop+'px';
  cv.style.width = W+'px'; cv.style.height = H+'px';
  document.body.appendChild(cv);
  const yAxisW = l - cLeft;
  new Chart(cv.getContext('2d'), {
    type:'scatter',
    data:{ datasets:[{ data: toPoints(p.data), pointRadius:1.6, pointHoverRadius:1.6,
      pointBackgroundColor:'#000', pointBorderWidth:0, borderColor:'#000' }] },
    options:{
      responsive:false, animation:false, devicePixelRatio:1,
      layout:{ padding:{ top:10, left:0, right:(cLeft+W) - r, bottom:0 } },
      plugins:{ legend:{display:false}, tooltip:{enabled:false} },
      scales:{
        x:{ type:'linear', min:p.xmin, max:p.xmax,
            afterFit:(s)=>{ s.height = 32; },
            afterBuildTicks:(s)=>{ s.ticks = p.xticks.map(v=>({value:v})); },
            grid:{display:false, drawTicks:false}, border:{display:false},
            ticks:{ autoSkip:false, maxRotation:0, minRotation:0, padding:5, color:LABEL,
                    font:{family:FONT, size:10}, callback:(v)=>String(v) },
            title:{ display:true, text:p.xt, color:LABEL, font:{family:FONT, size:10}, padding:{top:0,bottom:2} } },
        y:{ type:'linear', min:-40, max:40,
            afterFit:(s)=>{ s.width = yAxisW; },
            afterBuildTicks:(s)=>{ s.ticks = yTicks.map(v=>({value:v})); },
            grid:{display:false, drawTicks:false}, border:{display:false},
            ticks:{ padding:3, color:LABEL, font:{family:FONT, size:10},
                    callback:(v)=> v<0 ? '\u2212'+Math.abs(v) : String(v) },
            title:{ display:true, text:p.yt, color:LABEL, font:{family:FONT, size:10}, padding:{top: p.side ? 12 : 17, bottom:0} } }
      }
    },
    plugins:[framePlugin]
  });
});

moonNames.forEach((n,i)=>{
  const d = document.createElement('div');
  d.className = 'title';
  d.textContent = n;
  d.style.left = '614px';
  d.style.top = (titleTops[i] - 20) + 'px';
  document.body.appendChild(d);
});
</script>
</body></html>
